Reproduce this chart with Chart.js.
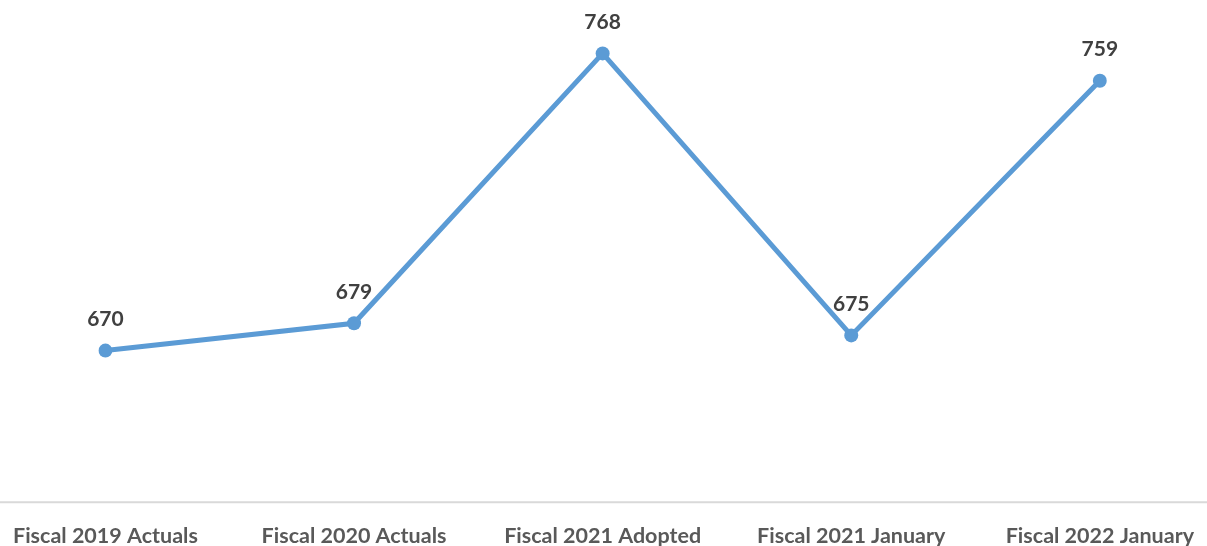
<!DOCTYPE html>
<html>
<head>
<meta charset="utf-8">
<script src="https://cdn.jsdelivr.net/npm/chart.js@4/dist/chart.umd.min.js"></script>
<style>
  html, body { margin: 0; padding: 0; background: #fff; }
  #wrap { width: 1207px; height: 546px; }
</style>
</head>
<body>
<div id="wrap"><canvas id="lineChart"></canvas></div>
<script>
const categories = ['Fiscal 2019 Actuals', 'Fiscal 2020 Actuals', 'Fiscal 2021 Adopted', 'Fiscal 2021 January', 'Fiscal 2022 January'];
const values = [670, 679, 768, 675, 759];

const fontFamily = 'Lato, "Open Sans", sans-serif';

// full-width axis line like the original
const axisLine = {
    id: 'axisLine',
    beforeDatasetsDraw(chart) {
        const ctx = chart.ctx;
        const y = chart.chartArea.bottom;
        ctx.save();
        ctx.strokeStyle = '#d9d9d9';
        ctx.lineWidth = 2;
        ctx.beginPath();
        ctx.moveTo(0, y);
        ctx.lineTo(chart.width, y);
        ctx.stroke();
        ctx.restore();
    }
};

// value labels above each point
const valueLabels = {
    id: 'valueLabels',
    afterDatasetsDraw(chart) {
        const ctx = chart.ctx;
        const meta = chart.getDatasetMeta(0);
        ctx.save();
        ctx.font = 'bold 21px ' + fontFamily;
        ctx.fillStyle = '#404040';
        ctx.textAlign = 'center';
        ctx.textBaseline = 'middle';
        meta.data.forEach((pt, i) => {
            ctx.fillText(values[i], pt.x, pt.y - 31);
        });
        ctx.restore();
    }
};

const ctx = document.getElementById('lineChart').getContext('2d');
const chart = new Chart(ctx, {
    type: 'line',
    data: {
        labels: categories,
        datasets: [{
            data: values,
            borderColor: '#5b9bd5',
            backgroundColor: '#5b9bd5',
            borderWidth: 5,
            pointRadius: 7,
            pointBorderWidth: 0,
            tension: 0
        }]
    },
    options: {
        responsive: true,
        maintainAspectRatio: false,
        animation: false,
        layout: {
            padding: { top: 17, left: 103, right: 107, bottom: -16 }
        },
        plugins: {
            legend: { display: false },
            tooltip: { enabled: false }
        },
        scales: {
            x: {
                offset: false,
                grid: { display: false },
                border: { display: false },
                ticks: {
                    autoSkip: false,
                    maxRotation: 0,
                    padding: 13,
                    color: '#595959',
                    font: { family: fontFamily, size: 21.5, weight: 'bold' }
                }
            },
            y: {
                display: false,
                min: 620,
                max: 780
            }
        }
    },
    plugins: [axisLine, valueLabels]
});
</script>
</body>
</html>
